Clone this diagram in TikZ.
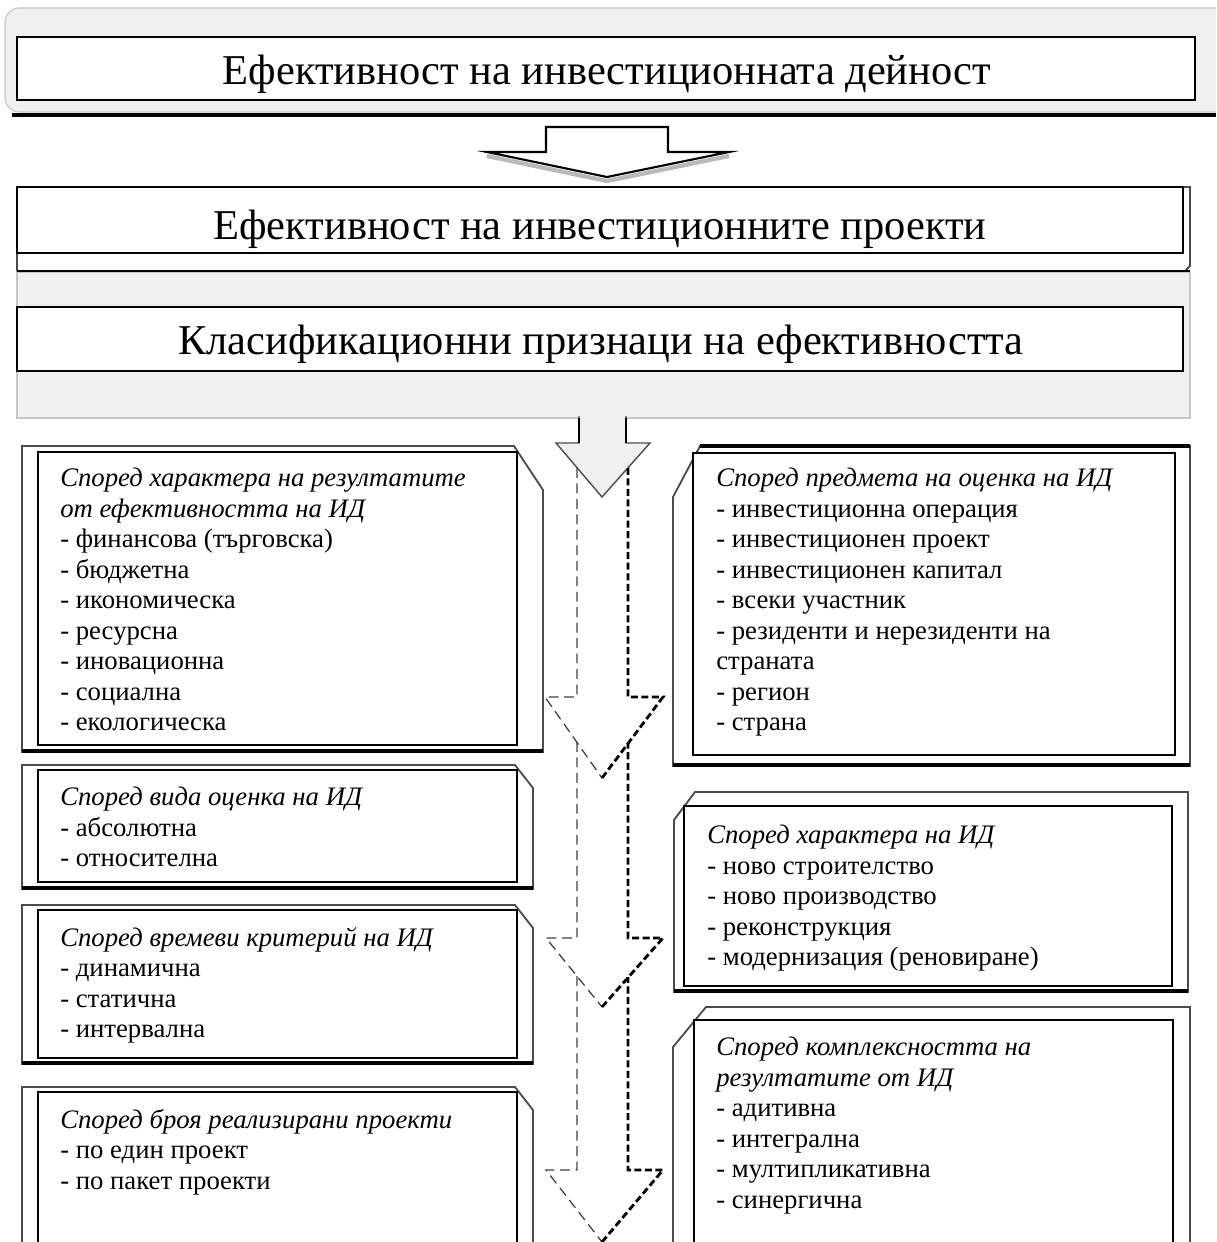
\documentclass[tikz,border=0pt]{standalone}
\usepackage{fontspec}
\setmainfont{Liberation Serif}
\usetikzlibrary{calc}

\tikzset{
	panel/.style={fill=gray!12, draw=gray!45, line width=0.8pt},
	whitebox/.style={fill=white, draw=black, line width=1.3pt},
	frame/.style={fill=white, draw=gray!60!black, line width=1.3pt},
	shadowline/.style={draw=black, line width=2.8pt},
	crit/.style={anchor=north west, align=left, inner sep=0pt, font=\fontsize{19}{21.7}\selectfont},
	heading/.style={anchor=base, inner sep=0pt, font=\fontsize{30.2}{34}\selectfont},
	dashl/.style={draw=gray!50!black, line width=0.9pt, dash pattern=on 7pt off 4pt},
	dashr/.style={draw=black, line width=2pt, dash pattern=on 5pt off 2.5pt},
}

\begin{document}
\begin{tikzpicture}[x=0.025cm, y=-0.025cm]
	\useasboundingbox (0,0) rectangle (1216,1242);
	\clip (0,0) rectangle (1216,1242);

		%top panel
		\filldraw[panel, rounded corners=10pt] (5,8) rectangle (1240,112);
		\draw[shadowline] (12,115) -- (1216,115);
		\filldraw[whitebox] (17,37) rectangle (1195,100);
		\node[heading] (activity) at (607,85) {Ефективност на инвестиционната дейност};

		%hollow arrow with its shadow
		\draw[gray!55, line width=3pt] (487,156) -- (607,181) -- (729,156);
		\filldraw[fill=white, draw=black, line width=1.5pt] (546,127) -- (668,127) -- (668,152) -- (729,152) -- (607,177) -- (487,152) -- (546,152) -- cycle;

		%projects box
		\filldraw[frame] (17,187) -- (1190,187) -- (1190,266) -- (1185,271) -- (17,271) -- cycle;
		\filldraw[whitebox] (17,187) rectangle (1183,253);
		\node[heading] (projects) at (600,239) {Ефективност на инвестиционните проекти};

		%classification panel
		\filldraw[panel] (17,272) rectangle (1190,418);
		\draw[black, line width=2pt] (17,271) -- (1190,271);
		\filldraw[whitebox] (17,307) rectangle (1183,371);
		\node[heading] (classes) at (601,354) {Класификационни признаци на ефективността};

		%gray arrow
		\filldraw[fill=gray!12, draw=gray!60!black, line width=1pt] (579,416) -- (579,443) -- (556,443) -- (602,497) -- (650,443) -- (626,443) -- (626,416);
		\draw[black, line width=2pt] (579,418) -- (579,443) (626,418) -- (626,443);

		%left boxes
		\filldraw[frame] (22,446) -- (514,446) -- (543,490) -- (543,752) -- (22,752) -- cycle;
		\draw[shadowline] (22,751) -- (543,751);
		\filldraw[whitebox] (38,452) rectangle (517,745);
		\node[crit] (result) at (60,468) {\textit{Според характера на резултатите}\\\textit{от ефективността на ИД}\\- финансова (търговска)\\- бюджетна\\- икономическа\\- ресурсна\\- иновационна\\- социална\\- екологическа};

		\filldraw[frame] (22,765) -- (515,765) -- (533,788) -- (533,889) -- (22,889) -- cycle;
		\draw[shadowline] (22,888) -- (533,888);
		\filldraw[whitebox] (38,770) rectangle (517,882);
		\node[crit] (kind) at (60,787) {\textit{Според вида оценка на ИД}\\- абсолютна\\- относителна};

		\filldraw[frame] (22,905) -- (515,905) -- (533,928) -- (533,1064) -- (22,1064) -- cycle;
		\draw[shadowline] (22,1063) -- (533,1063);
		\filldraw[whitebox] (38,910) rectangle (517,1058);
		\node[crit] (time) at (60,927) {\textit{Според времеви критерий на ИД}\\- динамична\\- статична\\- интервална};

		\filldraw[frame] (22,1087) -- (515,1087) -- (533,1110) -- (533,1260) -- (22,1260) -- cycle;
		\filldraw[whitebox] (38,1092) rectangle (517,1260);
		\node[crit] (count) at (60,1109) {\textit{Според броя реализирани проекти}\\- по един проект\\- по пакет проекти};

		%right boxes
		\filldraw[frame] (700,446) -- (1190,446) -- (1190,766) -- (673,766) -- (673,497) -- cycle;
		\draw[shadowline] (700,446) -- (1190,446);
		\draw[shadowline] (673,765) -- (1190,765);
		\filldraw[whitebox] (693,453) rectangle (1175,755);
		\node[crit] (subject) at (716,468) {\textit{Според предмета на оценка на ИД}\\- инвестиционна операция\\- инвестиционен проект\\- инвестиционен капитал\\- всеки участник\\- резиденти и нерезиденти на\\страната\\- регион\\- страна};

		\filldraw[frame] (695,792) -- (1188,792) -- (1188,992) -- (674,992) -- (674,820) -- cycle;
		\draw[shadowline] (674,991) -- (1188,991);
		\filldraw[whitebox] (684,806) rectangle (1172,986);
		\node[crit] (nature) at (707,825) {\textit{Според характера на ИД}\\- ново строителство\\- ново производство\\- реконструкция\\- модернизация (реновиране)};

		\filldraw[frame] (706,1007) -- (1190,1007) -- (1190,1260) -- (673,1260) -- (673,1047) -- cycle;
		\filldraw[whitebox] (694,1020) rectangle (1173,1260);
		\node[crit] (complex) at (716,1037) {\textit{Според комплексността на}\\\textit{резултатите от ИД}\\- адитивна\\- интегрална\\- мултипликативна\\- синергична};

		%dashed arrows
		\draw[dashl] (577,468) -- (577,697) -- (545,697) -- (602,778);
		\draw[dashr] (602,778) -- (663,697) -- (628,697) -- (628,468);
		\draw[dashl] (577,742) -- (577,938) -- (546,938) -- (602,1007);
		\draw[dashr] (602,1007) -- (663,938) -- (628,938) -- (628,743);
		\draw[dashl] (577,976) -- (577,1170) -- (546,1170) -- (602,1242);
		\draw[dashr] (602,1242) -- (663,1170) -- (628,1170) -- (628,977);

	\end{tikzpicture}
\end{document}
